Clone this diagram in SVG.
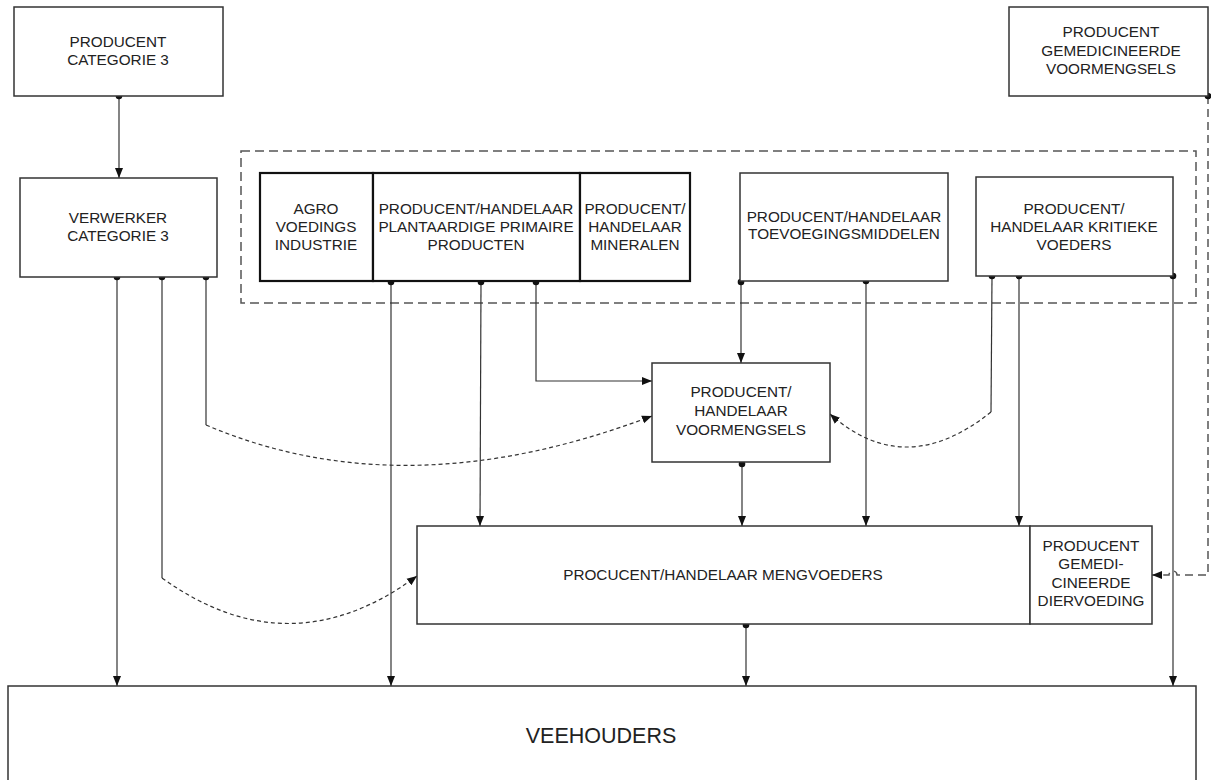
<svg xmlns="http://www.w3.org/2000/svg" width="1211" height="780" viewBox="0 0 1211 780">
<style>
.box{fill:#fff;stroke:#333;stroke-width:1.5}
.bold{fill:#fff;stroke:#111;stroke-width:2.2}
.frame{fill:none;stroke:#555;stroke-width:1.5;stroke-dasharray:9,5}
.t{font-family:"Liberation Sans",Arial,sans-serif;font-size:15.3px;fill:#222;text-anchor:middle}
.big{font-size:21.5px}
.c{fill:none;stroke:#333;stroke-width:1.2}
.d{fill:none;stroke:#333;stroke-width:1.2;stroke-dasharray:4,3}
.dd{fill:none;stroke:#555;stroke-width:1.5;stroke-dasharray:8,5}
.dot{fill:#111}
</style>
<defs>
<marker id="arr" markerUnits="userSpaceOnUse" markerWidth="10" markerHeight="10" viewBox="0 0 10 10" refX="10" refY="5" orient="auto">
<path d="M0,1 L10,5 L0,9 Z" fill="#111"/>
</marker>
</defs>
<rect width="1211" height="780" fill="#fff"/>
<rect class="frame" x="241" y="151" width="955" height="152"/>

<g id="connectors">
<path class="c" d="M119,96 V178" marker-end="url(#arr)"/>
<path class="c" d="M117,277 V686" marker-end="url(#arr)"/>
<path class="c" d="M162,277 V578"/>
<path class="d" d="M162,578 Q290,670 417,576" marker-end="url(#arr)"/>
<path class="c" d="M206,277 V425"/>
<path class="d" d="M206,425 Q405,510 652,416" marker-end="url(#arr)"/>
<path class="c" d="M391,281 V686" marker-end="url(#arr)"/>
<path class="c" d="M481,281 L480,526" marker-end="url(#arr)"/>
<path class="c" d="M536,281 V381 H652" marker-end="url(#arr)"/>
<path class="c" d="M741,281 V363" marker-end="url(#arr)"/>
<path class="c" d="M866,281 V526" marker-end="url(#arr)"/>
<path class="c" d="M992,276 L991,412"/>
<path class="d" d="M991,412 Q905,481 830,414" marker-end="url(#arr)"/>
<path class="c" d="M1019,276 V526" marker-end="url(#arr)"/>
<path class="c" d="M1173,276 V686" marker-end="url(#arr)"/>
<path class="c" d="M742,462 V526" marker-end="url(#arr)"/>
<path class="c" d="M746,624 V686" marker-end="url(#arr)"/>
<path class="dd" d="M1208,96 V575 H1177 A4,4 0 0 0 1169,575 H1152" marker-end="url(#arr)"/>
<circle class="dot" cx="119" cy="96" r="3.3"/>
<circle class="dot" cx="117" cy="277" r="3.3"/>
<circle class="dot" cx="162" cy="277" r="3.3"/>
<circle class="dot" cx="206" cy="277" r="3.3"/>
<circle class="dot" cx="391" cy="282" r="3.3"/>
<circle class="dot" cx="481" cy="282" r="3.3"/>
<circle class="dot" cx="536" cy="282" r="3.3"/>
<circle class="dot" cx="741" cy="282" r="3.3"/>
<circle class="dot" cx="866" cy="281" r="3.3"/>
<circle class="dot" cx="992" cy="276" r="3.3"/>
<circle class="dot" cx="1019" cy="276" r="3.3"/>
<circle class="dot" cx="1173" cy="276" r="3.3"/>
<circle class="dot" cx="742" cy="464" r="3.3"/>
<circle class="dot" cx="746" cy="625" r="3.3"/>
<circle class="dot" cx="1208" cy="96" r="3.3"/>
</g>

<g id="producent-cat3">
<rect class="box" x="14" y="7" width="209" height="89"/>
<text class="t" x="118" y="47">PRODUCENT</text>
<text class="t" x="118" y="65">CATEGORIE 3</text>
</g>
<g id="verwerker-cat3">
<rect class="box" x="20" y="178" width="197" height="99"/>
<text class="t" x="118" y="223">VERWERKER</text>
<text class="t" x="118" y="241">CATEGORIE 3</text>
</g>
<g id="agro">
<rect class="bold" x="260" y="173" width="113" height="108"/>
<text class="t" x="316" y="214">AGRO</text>
<text class="t" x="316" y="232">VOEDINGS</text>
<text class="t" x="316" y="250">INDUSTRIE</text>
</g>
<g id="plantaardige">
<rect class="bold" x="373" y="173" width="207" height="108"/>
<text class="t" x="476" y="214">PRODUCENT/HANDELAAR</text>
<text class="t" x="476" y="232">PLANTAARDIGE PRIMAIRE</text>
<text class="t" x="476" y="250">PRODUCTEN</text>
</g>
<g id="mineralen">
<rect class="bold" x="580" y="173" width="110" height="108"/>
<text class="t" x="635" y="214">PRODUCENT/</text>
<text class="t" x="635" y="232">HANDELAAR</text>
<text class="t" x="635" y="250">MINERALEN</text>
</g>
<g id="toevoegingsmiddelen">
<rect class="box" x="740" y="173" width="208" height="108"/>
<text class="t" x="844" y="222">PRODUCENT/HANDELAAR</text>
<text class="t" x="844" y="239">TOEVOEGINGSMIDDELEN</text>
</g>
<g id="kritieke-voeders">
<rect class="box" x="976" y="177" width="197" height="99"/>
<text class="t" x="1074" y="214">PRODUCENT/</text>
<text class="t" x="1074" y="232">HANDELAAR KRITIEKE</text>
<text class="t" x="1074" y="250">VOEDERS</text>
</g>
<g id="gemedicineerde-voormengsels">
<rect class="box" x="1009" y="7" width="199" height="89"/>
<text class="t" x="1111" y="37">PRODUCENT</text>
<text class="t" x="1111" y="56">GEMEDICINEERDE</text>
<text class="t" x="1111" y="74">VOORMENGSELS</text>
</g>
<g id="voormengsels">
<rect class="box" x="652" y="363" width="178" height="99"/>
<text class="t" x="741" y="397">PRODUCENT/</text>
<text class="t" x="741" y="416">HANDELAAR</text>
<text class="t" x="741" y="435">VOORMENGSELS</text>
</g>
<g id="mengvoeders">
<rect class="box" x="417" y="526" width="613" height="98"/>
<text class="t" x="723" y="580">PROCUCENT/HANDELAAR MENGVOEDERS</text>
</g>
<g id="gemedicineerde-diervoeding">
<rect class="box" x="1030" y="526" width="122" height="98"/>
<text class="t" x="1091" y="551">PRODUCENT</text>
<text class="t" x="1091" y="569">GEMEDI-</text>
<text class="t" x="1091" y="588">CINEERDE</text>
<text class="t" x="1091" y="606">DIERVOEDING</text>
</g>
<g id="veehouders">
<rect class="box" x="8" y="686" width="1188" height="110"/>
<text class="t big" x="601" y="743">VEEHOUDERS</text>
</g>
</svg>
